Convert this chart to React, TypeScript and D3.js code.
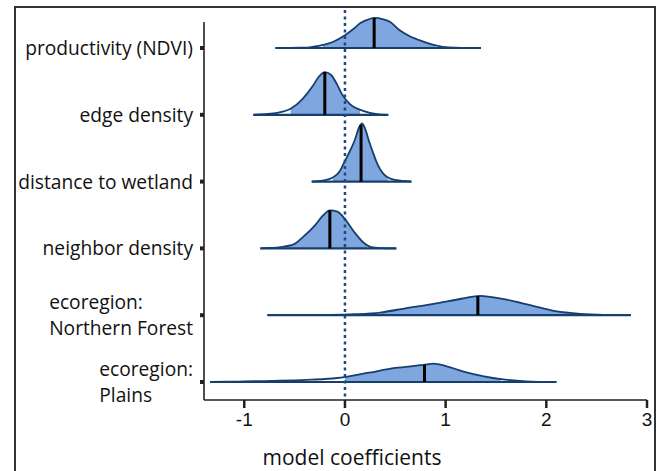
import React, { useEffect, useRef } from "react";
import * as d3 from "d3";

// categories, top to bottom
const categories = [
  "productivity (NDVI)",
  "edge density",
  "distance to wetland",
  "neighbor density",
  "ecoregion:\nNorthern Forest",
  "ecoregion:\nPlains",
];

// density curves (coefficient, scaled density)
const prodX = [-0.69, -0.45, -0.35, -0.22, -0.12, 0, 0.08, 0.15, 0.22, 0.29, 0.38, 0.45, 0.54, 0.64, 0.77, 0.9, 1.03, 1.35];
const prodY = [0, 0.005, 0.01, 0.045, 0.09, 0.19, 0.28, 0.37, 0.42, 0.45, 0.43, 0.39, 0.27, 0.18, 0.1, 0.04, 0.01, 0];

const edgeX = [-0.91, -0.79, -0.67, -0.54, -0.42, -0.32, -0.26, -0.2, -0.14, -0.08, -0.03, 0.05, 0.18, 0.32, 0.43];
const edgeY = [0, 0.01, 0.03, 0.09, 0.24, 0.43, 0.57, 0.64, 0.6, 0.46, 0.31, 0.16, 0.06, 0.01, 0];

const distX = [-0.33, -0.22, -0.12, -0.05, 0, 0.05, 0.1, 0.14, 0.17, 0.21, 0.24, 0.28, 0.32, 0.38, 0.45, 0.57, 0.66];
const distY = [0, 0.015, 0.06, 0.16, 0.31, 0.46, 0.63, 0.81, 0.87, 0.75, 0.6, 0.43, 0.27, 0.12, 0.045, 0.01, 0];

const neighX = [-0.84, -0.64, -0.51, -0.41, -0.3, -0.22, -0.15, -0.075, 0.01, 0.09, 0.175, 0.26, 0.35, 0.51];
const neighY = [0, 0.02, 0.06, 0.18, 0.34, 0.49, 0.57, 0.55, 0.42, 0.25, 0.1, 0.02, 0.005, 0];

const forestX = [-0.77, -0.15, 0.1, 0.35, 0.59, 0.88, 1.17, 1.34, 1.58, 1.84, 2.09, 2.34, 2.57, 2.84];
const forestY = [0, 0.005, 0.015, 0.04, 0.1, 0.17, 0.25, 0.29, 0.24, 0.15, 0.06, 0.02, 0.005, 0];

const plainsX = [-1.34, -1.07, -0.33, -0.08, 0.22, 0.5, 0.78, 0.88, 1.01, 1.17, 1.38, 1.59, 1.8, 2.1];
const plainsY = [0, 0.007, 0.035, 0.06, 0.135, 0.21, 0.255, 0.275, 0.235, 0.16, 0.085, 0.035, 0.01, 0];

const curvesX = [prodX, edgeX, distX, neighX, forestX, plainsX];
const curvesY = [prodY, edgeY, distY, neighY, forestY, plainsY];

// posterior medians and shaded intervals
const medians = [0.29, -0.2, 0.16, -0.15, 1.32, 0.79];
const intervalLo = [-0.22, -0.54, -0.12, -0.6, 0.35, 0.0];
const intervalHi = [0.9, 0.15, 0.43, 0.22, 2.3, 1.55];

const xTicks = [-1, 0, 1, 2, 3];

function App() {
  const svgRef = useRef<SVGSVGElement | null>(null);

  useEffect(() => {
    drawChart();
  }, []);

  const drawChart = () => {
    const svg = d3.select(svgRef.current);
    svg.selectAll("*").remove();

    const left = 204;
    const right = 647;
    const top = 22;
    const bottom = 400;
    const fill = "#7fa6de";
    const stroke = "#163f6e";
    const labelFont = "'Open Sans', 'Noto Sans', sans-serif";

    // outer frame
    svg.append("rect")
      .attr("x", 15).attr("y", 7)
      .attr("width", 640).attr("height", 480)
      .attr("fill", "none").attr("stroke", "#333").attr("stroke-width", 2);

    const x = d3.scaleLinear().domain([-1.4, 3]).range([left, right]);
    const y = d3.scalePoint<string>().domain(categories).range([48, 382]);
    const step = y.step();
    const h = d3.scaleLinear().domain([0, 1]).range([0, step]);

    const g = svg.append("g");

    categories.forEach((cat, i) => {
      const base = y(cat) as number;
      const pts = curvesX[i].map((cx, j) => [cx, curvesY[i][j]] as [number, number]);

      const area = d3.area<[number, number]>()
        .x((d) => x(d[0]))
        .y0(base)
        .y1((d) => base - h(d[1]))
        .curve(d3.curveMonotoneX);
      const line = d3.line<[number, number]>()
        .x((d) => x(d[0]))
        .y((d) => base - h(d[1]))
        .curve(d3.curveMonotoneX);

      const clipId = `clip-${i}`;
      g.append("clipPath").attr("id", clipId)
        .append("rect")
        .attr("x", x(intervalLo[i]))
        .attr("y", base - step * 1.5)
        .attr("width", x(intervalHi[i]) - x(intervalLo[i]))
        .attr("height", step * 1.5);

      g.append("path")
        .datum(pts)
        .attr("d", area)
        .attr("fill", fill)
        .attr("clip-path", `url(#${clipId})`);

      g.append("path")
        .datum(pts)
        .attr("d", line)
        .attr("fill", "none")
        .attr("stroke", stroke)
        .attr("stroke-width", 1.8);

      g.append("line")
        .attr("x1", x(curvesX[i][0]))
        .attr("x2", x(curvesX[i][curvesX[i].length - 1]))
        .attr("y1", base).attr("y2", base)
        .attr("stroke", stroke)
        .attr("stroke-width", 2.2);

      // median line, height
      const hm = d3.scaleLinear().domain(curvesX[i]).range(curvesY[i])(medians[i]);
      g.append("line")
        .attr("x1", x(medians[i])).attr("x2", x(medians[i]))
        .attr("y1", base).attr("y2", base - h(hm))
        .attr("stroke", "#000")
        .attr("stroke-width", 3);
    });

    // reference line at zero
    g.append("line")
      .attr("x1", x(0)).attr("x2", x(0))
      .attr("y1", 10).attr("y2", bottom - 2)
      .attr("stroke", "#1a4a7e")
      .attr("stroke-width", 2.5)
      .attr("stroke-dasharray", "3 3.5");

    // y axis
    g.append("line")
      .attr("x1", left).attr("x2", left)
      .attr("y1", top).attr("y2", bottom)
      .attr("stroke", "#222").attr("stroke-width", 1.6);

    categories.forEach((cat) => {
      const base = y(cat) as number;
      g.append("rect")
        .attr("x", left - 4).attr("y", base - 2)
        .attr("width", 4).attr("height", 4)
        .attr("fill", "#222");

      const lines = cat.split("\n");
      const lh = 26;
      const t = g.append("text")
        .attr("font-family", labelFont)
        .attr("font-size", 19.2)
        .attr("fill", "#111");
      lines.forEach((ln, k) => {
        t.append("tspan")
          .attr("x", 0)
          .attr("y", base + 7 + (k - (lines.length - 1) / 2) * lh)
          .text(ln);
      });
      const widths = (t.selectAll("tspan").nodes() as SVGTSpanElement[]).map((n) =>
        n.getComputedTextLength()
      );
      const wmax = d3.max(widths) as number;
      t.selectAll("tspan").attr("x", 193 - wmax);
    });

    // x axis
    g.append("line")
      .attr("x1", left).attr("x2", right)
      .attr("y1", bottom).attr("y2", bottom)
      .attr("stroke", "#222").attr("stroke-width", 1.6);

    xTicks.forEach((v) => {
      g.append("line")
        .attr("x1", x(v)).attr("x2", x(v))
        .attr("y1", bottom).attr("y2", bottom + 8)
        .attr("stroke", "#222").attr("stroke-width", 2.5);
      g.append("text")
        .attr("x", x(v)).attr("y", bottom + 26)
        .attr("text-anchor", "middle")
        .attr("font-family", "'Liberation Sans', Arial, sans-serif")
        .attr("font-size", 19)
        .attr("fill", "#111")
        .text(v < 0 ? `-${Math.abs(v)}` : `${v}`);
    });

    g.append("text")
      .attr("x", 352).attr("y", 465)
      .attr("text-anchor", "middle")
      .attr("font-family", labelFont)
      .attr("font-size", 21)
      .attr("fill", "#111")
      .text("model coefficients");
  };

  return (
    <div style={{ position: "absolute", left: 0, top: 0 }}>
      <svg ref={svgRef} width={661} height={471} style={{ display: "block" }} />
    </div>
  );
}

export default App;
